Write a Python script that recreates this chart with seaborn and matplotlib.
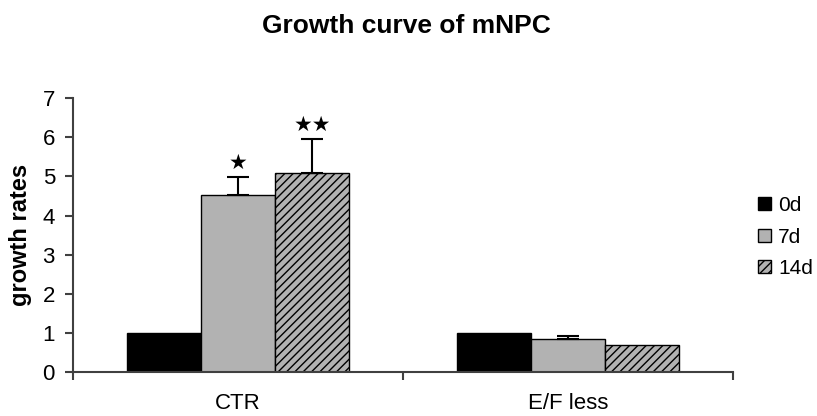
import numpy as np
import pandas as pd
import seaborn as sns
import matplotlib.pyplot as plt

groups = ["CTR", "E/F less"]
days = ["0d", "7d", "14d"]
rate_0d = [1.0, 1.0]
rate_7d = [4.52, 0.86]
rate_14d = [5.08, 0.69]
err_0d = [0.0, 0.0]
err_7d = [0.47, 0.06]
err_14d = [0.87, 0.0]
sig_0d = ["", ""]
sig_7d = ["★", ""]
sig_14d = ["★★", ""]

df = pd.DataFrame({
    "group": groups * 3,
    "day": np.repeat(days, len(groups)),
    "rate": rate_0d + rate_7d + rate_14d,
})

sns.set_style("ticks")
plt.rcParams["font.family"] = ["Liberation Sans", "DejaVu Sans"]
plt.rcParams["text.color"] = "black"
plt.rcParams["axes.labelcolor"] = "black"
plt.rcParams["hatch.linewidth"] = 1.0

fig = plt.figure(figsize=(8.17, 4.16), dpi=100)
ax = fig.add_axes([0.0894, 0.1046, 0.8076, 0.66])

sns.barplot(data=df, x="group", y="rate", hue="day", hue_order=days,
            palette=["black", "#b2b2b2", "#b2b2b2"], saturation=1,
            width=0.674, edgecolor="black", linewidth=1,
            errorbar=None, legend=False, ax=ax)

bars = list(ax.containers)
for p in bars[2]:
    p.set_hatch("////")

errs = [err_0d, err_7d, err_14d]
sigs = [sig_0d, sig_7d, sig_14d]
for cont, err, sig in zip(bars, errs, sigs):
    for p, e, s in zip(cont, err, sig):
        x = p.get_x() + p.get_width() / 2
        top = p.get_height()
        if e > 0:
            ax.errorbar(x, top, yerr=[[0], [e]], fmt="none", ecolor="black",
                        elinewidth=1.5, capsize=8, capthick=1.5, zorder=5)
        if s:
            ax.annotate(s, (x, top + e), xytext=(0, 3), textcoords="offset points",
                        ha="center", va="bottom", fontsize=15,
                        family="DejaVu Sans", color="black")

ax.set_xlim(-0.5, 1.5)
ax.set_ylim(0, 7)
ax.set_yticks(range(8))
ax.set_xticks([-0.5, 0.5, 1.5], minor=True)
ax.tick_params(axis="x", which="major", length=0, pad=15, labelsize=16,
               labelcolor="black")
ax.tick_params(axis="x", which="minor", length=6, width=1.5, color="#404040")
ax.tick_params(axis="y", length=6, width=1.5, color="#404040", pad=7,
               labelsize=16, labelcolor="black")
for sp in ["left", "bottom"]:
    ax.spines[sp].set_linewidth(1.5)
    ax.spines[sp].set_color("#404040")
sns.despine(ax=ax)

ax.set_xlabel("")
ax.set_ylabel("growth rates", fontsize=17, fontweight="bold")
ax.yaxis.set_label_coords(-0.062, 0.5)

fig.text(0.497, 0.9375, "Growth curve of mNPC", ha="center", va="center",
         fontsize=19, fontweight="bold")

ax.legend(handles=bars, labels=days, loc="center left",
          bbox_to_anchor=(0.928, 0.43), bbox_transform=fig.transFigure,
          frameon=False, fontsize=15, handlelength=0.6, handleheight=0.6,
          handletextpad=0.35, labelspacing=0.6, borderaxespad=0, borderpad=0)

fig.savefig("out.png", dpi=100)
